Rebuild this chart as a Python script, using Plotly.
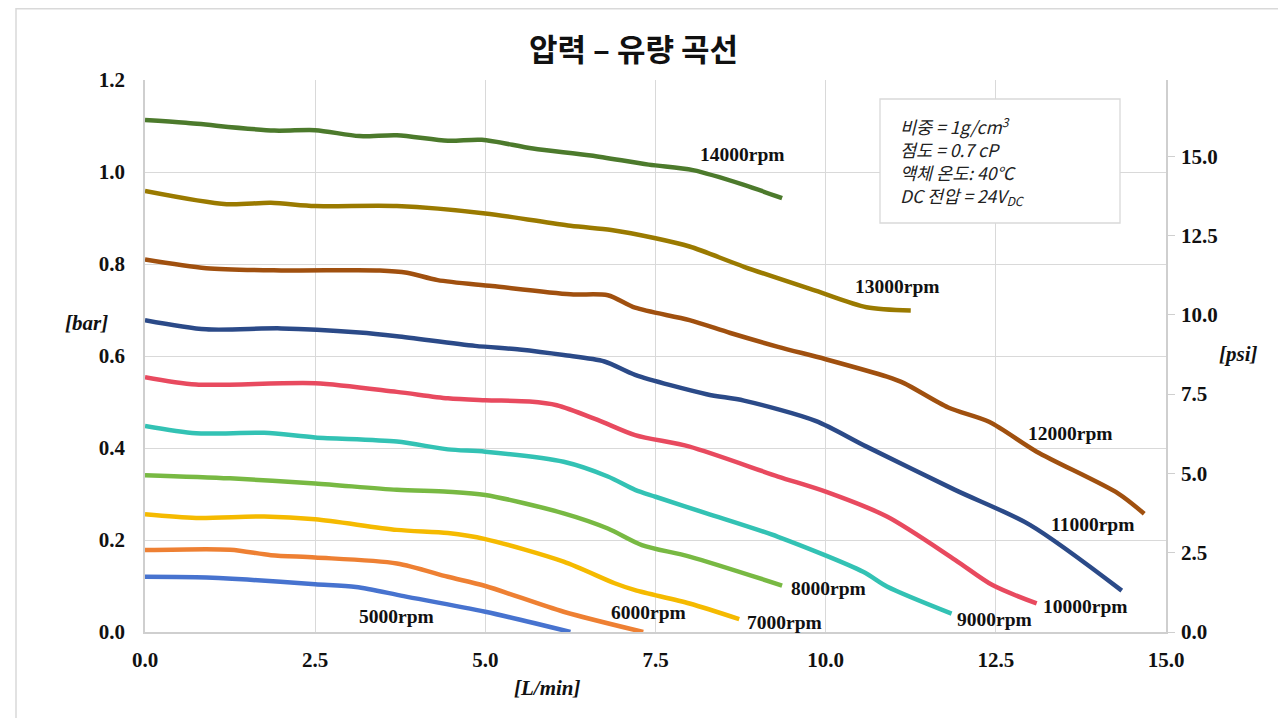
import plotly.graph_objects as go

# ---- data ----
rpm_labels = ["5000rpm", "6000rpm", "7000rpm", "8000rpm", "9000rpm",
              "10000rpm", "11000rpm", "12000rpm", "13000rpm", "14000rpm"]

x_5000 = [0, 0.75, 1.5, 2.5, 3.1, 3.8, 5.0, 6.25]
y_5000 = [0.120, 0.119, 0.114, 0.104, 0.098, 0.078, 0.044, 0.0]

x_6000 = [0, 1.25, 1.85, 2.5, 3.7, 4.45, 5.0, 6.15, 7.32]
y_6000 = [0.178, 0.179, 0.167, 0.162, 0.149, 0.120, 0.100, 0.044, 0.0]

x_7000 = [0, 0.75, 1.75, 2.5, 3.7, 4.45, 5.0, 6.15, 6.9, 7.2, 8.0, 8.73]
y_7000 = [0.256, 0.248, 0.251, 0.245, 0.222, 0.215, 0.202, 0.153, 0.106, 0.091, 0.062, 0.028]

x_8000 = [0, 1.25, 2.5, 3.7, 4.45, 5.0, 6.15, 6.8, 7.3, 8.0, 9.36]
y_8000 = [0.341, 0.334, 0.323, 0.309, 0.305, 0.298, 0.258, 0.225, 0.189, 0.164, 0.101]

x_9000 = [0, 0.75, 1.75, 2.5, 3.7, 4.45, 5.0, 6.15, 6.8, 7.2, 7.5, 8.25, 9.3, 10.55, 10.9, 11.85]
y_9000 = [0.448, 0.432, 0.433, 0.423, 0.414, 0.397, 0.392, 0.370, 0.338, 0.309, 0.294, 0.258, 0.207, 0.131, 0.099, 0.040]

x_10000 = [0, 0.75, 2.5, 3.7, 4.45, 5.0, 5.65, 6.05, 6.65, 7.2, 8.0, 9.3, 10.0, 10.9, 11.9, 12.45, 13.1]
y_10000 = [0.554, 0.538, 0.541, 0.522, 0.508, 0.504, 0.501, 0.493, 0.461, 0.428, 0.403, 0.338, 0.305, 0.251, 0.157, 0.102, 0.062]

x_11000 = [0, 0.9, 2.0, 3.15, 3.7, 4.85, 5.5, 6.15, 6.75, 7.2, 8.25, 8.8, 9.85, 10.6, 11.9, 13.0, 14.35]
y_11000 = [0.678, 0.658, 0.660, 0.651, 0.643, 0.622, 0.614, 0.602, 0.588, 0.559, 0.517, 0.503, 0.459, 0.403, 0.309, 0.233, 0.090]

x_12000 = [0, 0.9, 2.0, 3.45, 3.85, 4.3, 5.1, 6.25, 6.8, 7.2, 8.0, 8.6, 9.3, 10.0, 10.9, 11.15, 11.8, 12.4, 13.1, 14.3, 14.68]
y_12000 = [0.810, 0.791, 0.786, 0.786, 0.781, 0.765, 0.752, 0.734, 0.732, 0.705, 0.678, 0.650, 0.620, 0.593, 0.555, 0.541, 0.488, 0.457, 0.392, 0.301, 0.257]

x_13000 = [0, 1.2, 1.85, 2.5, 3.7, 5.0, 6.25, 6.85, 7.5, 8.0, 8.8, 9.85, 10.6, 11.25]
y_13000 = [0.959, 0.930, 0.933, 0.926, 0.926, 0.910, 0.883, 0.874, 0.856, 0.838, 0.794, 0.742, 0.706, 0.699]

x_14000 = [0, 0.6, 1.9, 2.5, 3.15, 3.7, 4.45, 4.95, 5.7, 6.55, 7.4, 8.05, 8.8, 9.36]
y_14000 = [1.113, 1.107, 1.090, 1.091, 1.078, 1.080, 1.068, 1.070, 1.051, 1.036, 1.016, 1.004, 0.972, 0.943]

# label anchor positions (data units)
label_x = [3.70, 7.39, 9.39, 10.04, 12.48, 13.82, 13.92, 13.59, 11.06, 8.78]
label_y = [0.033, 0.043, 0.020, 0.095, 0.028, 0.055, 0.233, 0.432, 0.751, 1.037]

x_ticks = [0, 2.5, 5.0, 7.5, 10.0, 12.5, 15.0]
bar_ticks = [0, 0.2, 0.4, 0.6, 0.8, 1.0, 1.2]
psi_ticks = [0, 2.5, 5.0, 7.5, 10.0, 12.5, 15.0]
BAR_TO_PSI = 14.5038

xs = [x_5000, x_6000, x_7000, x_8000, x_9000, x_10000, x_11000, x_12000, x_13000, x_14000]
ys = [y_5000, y_6000, y_7000, y_8000, y_9000, y_10000, y_11000, y_12000, y_13000, y_14000]
colors = ["#4773CF", "#EE8033", "#F5BA00", "#78B943", "#33C2B4",
          "#E84A5F", "#2B4A88", "#A0500F", "#9A7A00", "#4C7A2C"]

fig = go.Figure()
for xv, yv, c, name in zip(xs, ys, colors, rpm_labels):
    fig.add_trace(go.Scatter(x=xv, y=yv, mode="lines", name=name,
                             line=dict(color=c, width=4.5, shape="spline", smoothing=0.8),
                             showlegend=False, hoverinfo="skip"))

# dummy trace on psi axis
fig.add_trace(go.Scatter(x=[0], y=[0], yaxis="y2", mode="markers",
                         marker=dict(opacity=0), showlegend=False, hoverinfo="skip"))

SERIF = "Liberation Serif, Times New Roman, serif"
KR = "Noto Sans CJK KR, Malgun Gothic, sans-serif"
GRID = "#D9D9D9"

for lx, ly, t in zip(label_x, label_y, rpm_labels):
    fig.add_annotation(x=lx, y=ly, xref="x", yref="y", text="<b>" + t + "</b>",
                       xanchor="center", yanchor="middle",
                       showarrow=False, font=dict(family=SERIF, size=19.5, color="#111111"))

# page body has an 8px margin: the figure is offset by (8, 8) on screen
fig.update_layout(
    width=1270, height=710,
    margin=dict(l=137, r=112, t=72, b=86),
    paper_bgcolor="white", plot_bgcolor="white",
    xaxis=dict(range=[0, 15], tickvals=x_ticks, tickformat=".1f",
               showgrid=True, gridcolor=GRID, gridwidth=1.3,
               showline=True, linecolor="#CFCFCF", linewidth=1.5, zeroline=False,
               ticks="", ticklabelstandoff=8,
               tickfont=dict(family=SERIF, size=21, color="#111111", weight="bold")),
    yaxis=dict(range=[0, 1.2], tickvals=bar_ticks, tickformat=".1f",
               showgrid=True, gridcolor=GRID, gridwidth=1.3,
               showline=True, linecolor="#CFCFCF", linewidth=1.5, zeroline=False,
               ticks="", ticklabelstandoff=14,
               tickfont=dict(family=SERIF, size=21, color="#111111", weight="bold")),
    yaxis2=dict(range=[0, 1.2 * BAR_TO_PSI], tickvals=psi_ticks, tickformat=".1f",
                overlaying="y", side="right", showgrid=False, zeroline=False,
                showline=True, linecolor="#CFCFCF", linewidth=1.5,
                ticks="outside", ticklen=7, tickcolor="#CFCFCF", ticklabelstandoff=2,
                tickfont=dict(family=SERIF, size=21, color="#111111", weight="bold")),
)

def px_x(p):
    return (p - 145) / 1021

def px_y(p):
    return (632 - p) / 552

# axis titles
fig.add_annotation(x=px_x(86), y=px_y(323), xref="paper", yref="paper",
                   xanchor="center", yanchor="middle",
                   text="<b><i>[bar]</i></b>", showarrow=False,
                   font=dict(family=SERIF, size=21, color="#111111"))
fig.add_annotation(x=px_x(1238), y=px_y(354), xref="paper", yref="paper",
                   xanchor="center", yanchor="middle",
                   text="<b><i>[psi]</i></b>", showarrow=False,
                   font=dict(family=SERIF, size=21, color="#111111"))
fig.add_annotation(x=px_x(547), y=px_y(688), xref="paper", yref="paper",
                   xanchor="center", yanchor="middle",
                   text="<b><i>[L/min]</i></b>", showarrow=False,
                   font=dict(family=SERIF, size=21, color="#111111"))

# title
fig.add_annotation(x=px_x(633), y=px_y(48), xref="paper", yref="paper",
                   xanchor="center", yanchor="middle",
                   text="<b>압력 – 유량 곡선</b>", showarrow=False,
                   font=dict(family=KR, size=31, color="#111111"))

# info box
fig.add_shape(type="rect", xref="paper", yref="paper",
              x0=px_x(880), x1=px_x(1120), y0=px_y(223), y1=px_y(99),
              line=dict(color=GRID, width=1.3), fillcolor="white", layer="above")
fig.add_annotation(x=px_x(898), y=px_y(161), xref="paper", yref="paper",
                   xanchor="left", yanchor="middle", align="left", showarrow=False,
                   text="<i>비중 = 1g/cm<sup>3</sup><br>점도 = 0.7 cP<br>액체 온도: 40℃<br>DC 전압 = 24V<sub>DC</sub></i>",
                   font=dict(family=KR, size=17.5, color="#222222"))

# outer chart border
fig.add_shape(type="rect", xref="paper", yref="paper",
              x0=px_x(16), x1=1.3, y0=-0.3, y1=px_y(8.8),
              line=dict(color=GRID, width=1.5), fillcolor="rgba(0,0,0,0)", layer="below")

fig.write_html("out.html")
